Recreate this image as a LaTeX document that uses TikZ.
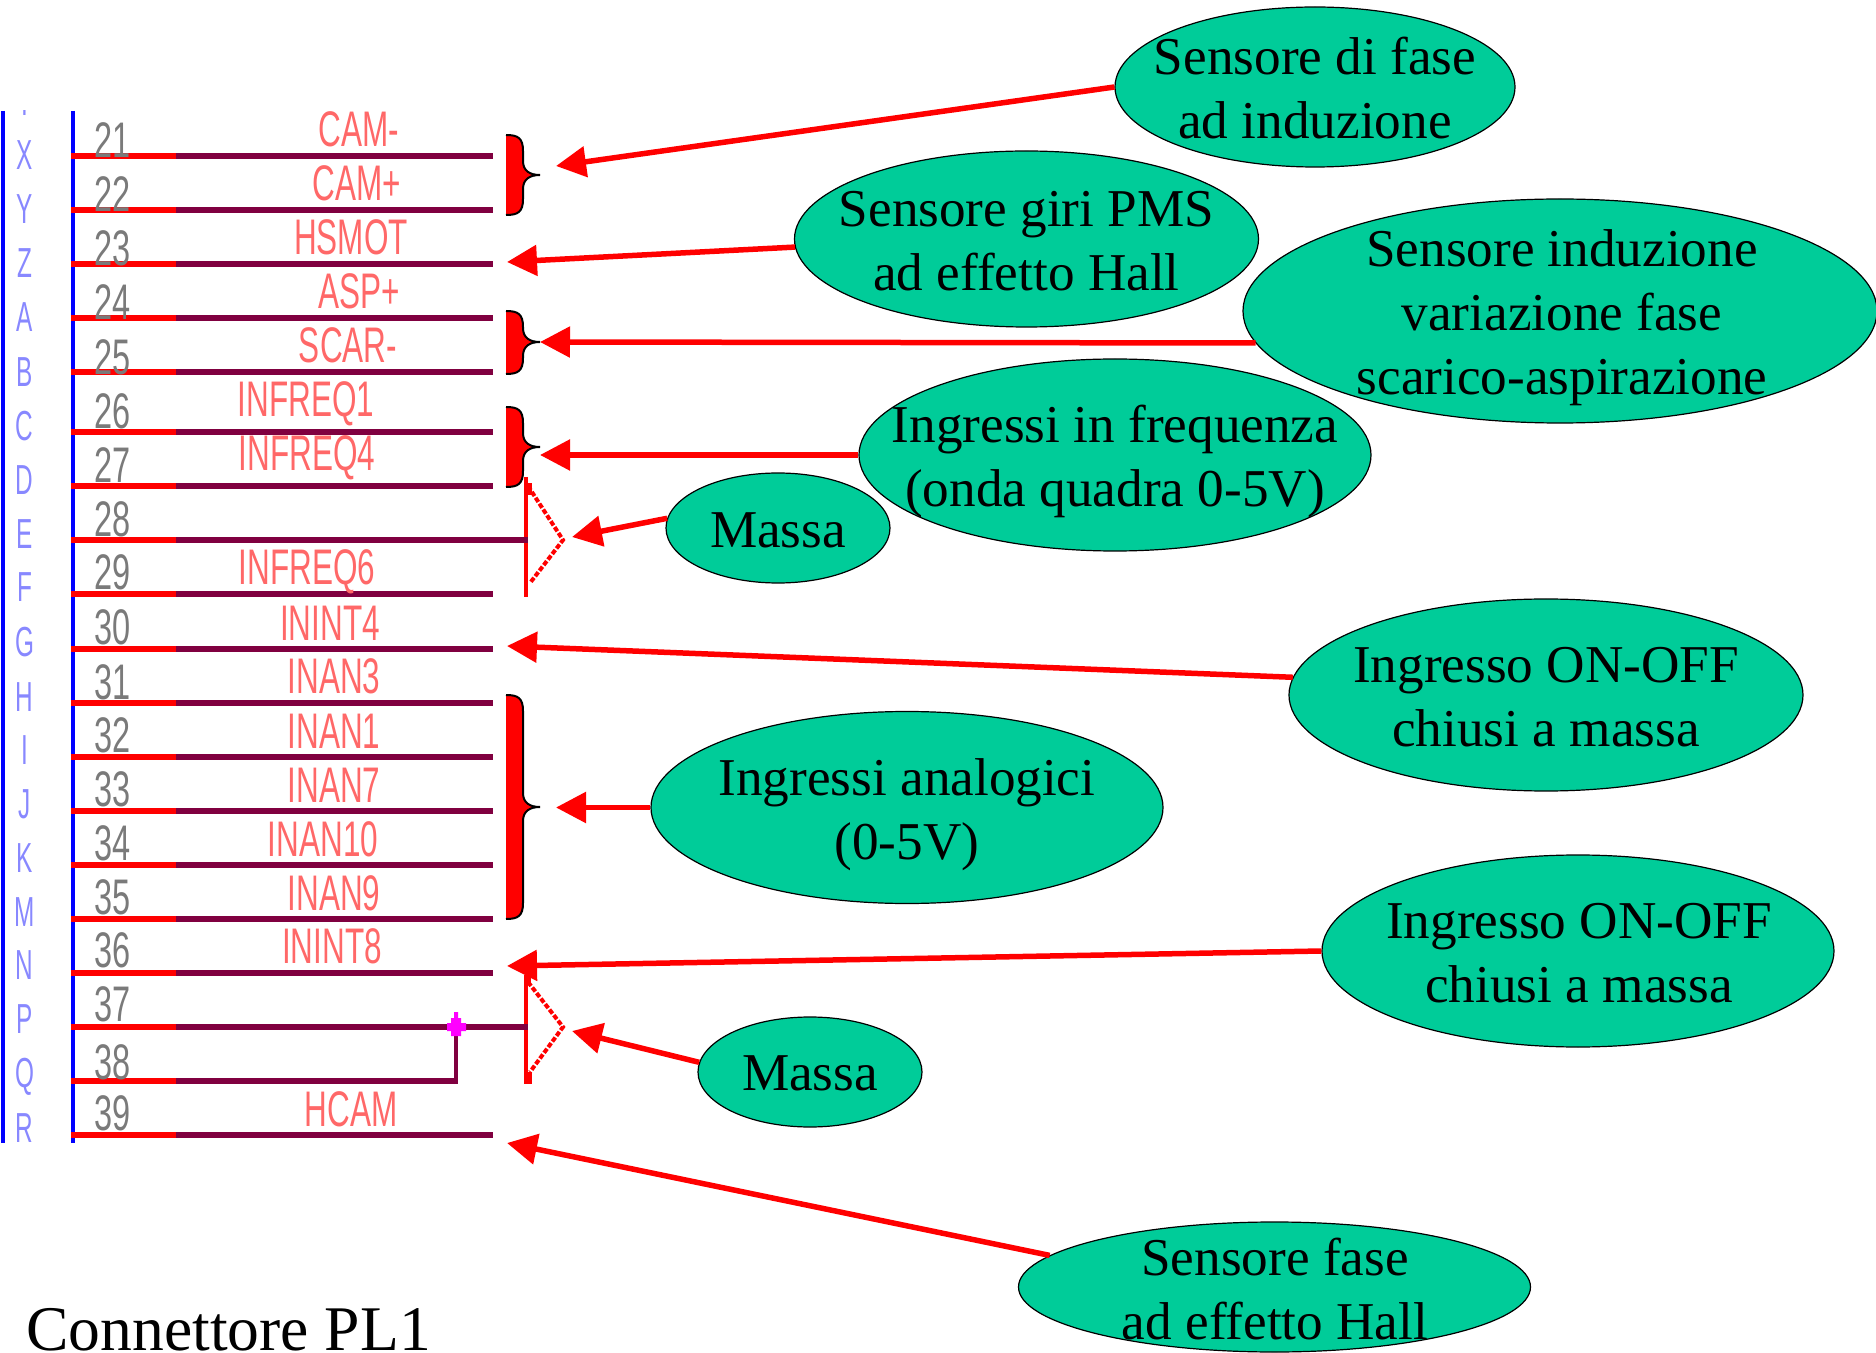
\documentclass[tikz,border=0pt]{standalone}
\usepackage{fontspec}
\usetikzlibrary{shapes.geometric,arrows.meta}
\setmainfont{Liberation Serif}
\newfontfamily\labfont[FakeStretch=0.63]{Liberation Sans}
\newfontfamily\numfont[FakeStretch=0.65]{Liberation Sans}
\newfontfamily\letfont[FakeStretch=0.58]{Liberation Sans}
\definecolor{wire}{HTML}{800040}
\definecolor{oval}{HTML}{00CC99}
\definecolor{labred}{HTML}{FF6868}
\definecolor{numgrey}{HTML}{7A7A7A}
\definecolor{letblue}{HTML}{8888FF}
\definecolor{puremag}{HTML}{FF00FF}
\definecolor{purered}{HTML}{FF0000}
\definecolor{pureblue}{HTML}{0000FF}
\tikzset{
  ovalshape/.style={ellipse,draw=black,line width=0.6pt,fill=oval,inner sep=0pt,minimum width=#1},
  ovaltext/.style={align=center,inner sep=0pt,font=\fontsize{26.6}{32}\selectfont},
  callout/.style={draw=purered,line width=2.75pt,-{Triangle[length=15pt,width=15pt]}},
  wirered/.style={draw=purered,line width=3pt},
  wiredark/.style={draw=wire,line width=3pt},
  wirethin/.style={draw=wire,line width=2pt},
  rail/.style={draw=pureblue,line width=2pt},
  siglabel/.style={text=labred,anchor=base,inner sep=0pt,font=\labfont\fontsize{25}{25}\selectfont},
  pinnum/.style={text=numgrey,inner sep=0pt,font=\numfont\fontsize{25}{25}\selectfont},
  pinlet/.style={text=letblue,inner sep=0pt,font=\letfont\fontsize{21}{21}\selectfont},
  bracefill/.style={fill=purered},
  braceedge/.style={draw=black,line width=1pt},
  gndsolid/.style={draw=purered,line width=2pt},
  gnddash/.style={draw=purered,line width=2pt,dash pattern=on 2.5pt off 1pt},
}
\newcommand{\curlyb}[3]{%
  \fill[bracefill] (506,#1) .. controls (518,#1) and (523,#1+3) .. (523,#1+16)
    -- (523,#2-14) .. controls (523,#2-4) and (530,#2) .. (540,#2)
    .. controls (530,#2) and (523,#2+4) .. (523,#2+14)
    -- (523,#3-16) .. controls (523,#3-3) and (518,#3) .. (506,#3) -- cycle;
  \draw[braceedge] (506,#1) .. controls (518,#1) and (523,#1+3) .. (523,#1+16)
    -- (523,#2-14) .. controls (523,#2-4) and (530,#2) .. (540,#2)
    .. controls (530,#2) and (523,#2+4) .. (523,#2+14)
    -- (523,#3-16) .. controls (523,#3-3) and (518,#3) .. (506,#3);
}
\begin{document}
\begin{tikzpicture}[x=0.5pt,y=-0.5pt]
\useasboundingbox (0,0) rectangle (1876,1353);

% rails
\coordinate (railAtop) at (3,111); \coordinate (railAbot) at (3,1143);
\coordinate (railBtop) at (73,111); \coordinate (railBbot) at (73,1143);
\draw[rail] (railAtop) -- (railAbot);
\draw[rail] (railBtop) -- (railBbot);

% braces
\curlyb{135}{175}{215}
\curlyb{311}{342}{374}
\curlyb{407}{447}{487}
\curlyb{695}{807}{919}

% ground symbols
\coordinate (g1t) at (526,477); \coordinate (g1b) at (526,597);
\coordinate (g1u) at (528,486); \coordinate (g1a) at (563,540); \coordinate (g1l) at (530,583);
\coordinate (g2t) at (526,975); \coordinate (g2b) at (526,1083);
\coordinate (g2u) at (528,982); \coordinate (g2a) at (563,1027); \coordinate (g2l) at (530,1072);
\draw[gndsolid] (g1t) -- (g1b);
\draw[gnddash] (g1u) -- (g1a) -- (g1l);
\draw[gndsolid] (g2t) -- (g2b);
\draw[gnddash] (g2u) -- (g2a) -- (g2l);
\fill[purered] (524,483) rectangle (532,495);
\fill[purered] (524,1072) rectangle (532,1084);
\fill[purered] (524,975) rectangle (531,984);

% rows
\foreach \n/\y in {21/156,22/210,23/264,24/318,25/372,26/432,27/486,28/540,29/594,30/649,31/703,32/757,33/811,34/865,35/919,36/973,37/1027,38/1081,39/1135}{
  \coordinate (a\n) at (71,\y);
  \coordinate (b\n) at (176,\y);
  \coordinate (c\n) at (493,\y);
}
\foreach \n in {21,22,23,24,25,26,27,29,30,31,32,33,34,35,36,39}{
  \draw[wiredark] (b\n) -- (c\n);
}
\coordinate (end28) at (528,540);
\coordinate (end37) at (528,1027);
\coordinate (junc) at (456,1027);
\coordinate (corner) at (456,1081);
\draw[wiredark] (b28) -- (end28);
\draw[wiredark] (b37) -- (end37);
\draw[wiredark] (b38) -- (corner |- b38);
\draw[wirethin] (corner) ++(0,3) -- (junc);
\foreach \n in {21,22,23,24,25,26,27,28,29,30,31,32,33,34,35,36,37,38,39}{
  \draw[wirered] (a\n) -- (b\n);
}
\fill[puremag] (454,1012) -- (458,1012) -- (458,1018) -- (461,1018) -- (461,1023) -- (466,1023) -- (466,1031) -- (461,1031) -- (461,1036) -- (451,1036) -- (451,1031) -- (447,1031) -- (447,1023) -- (451,1023) -- (451,1018) -- (454,1018) -- cycle;

% pin numbers and letters
\foreach \n/\y/\l in {21/155.5/X,22/209/Y,23/263/Z,24/317/A,25/372/B,26/426/C,27/480/D,28/534/E,29/587/F,30/642/G,31/697/H,32/750/I,33/804/J,34/858/K,35/912/M,36/965/N,37/1019/P,38/1077/Q,39/1128/R}{
  \node[pinnum] (num\n) at (112.5,\y-15) {\n};
  \node[pinlet] (let\n) at (24.5,\y) {\l};
}
\begin{scope}
  \clip (0,111) rectangle (60,140);
  \node[pinlet] (lettop) at (24.5,101) {I};
\end{scope}

% signal labels
\foreach \t/\x/\y in {CAM-/359/147,CAM+/357/201,HSMOT/351/255,ASP+/359/309,SCAR-/348/363,INFREQ1/306/417,INFREQ4/307/471,INFREQ6/307/585,ININT4/330/640,INAN3/334/694,INAN1/334/748,INAN7/334/802,INAN10/323/856,INAN9/334/910,ININT8/332/963,HCAM/351/1126}{
  \node[siglabel] (sig\t) at (\x,\y) {\t};
}

% ovals
\node[ovalshape=400pt*0.5,minimum height=80pt] (e1) at (1315,87) {};
\node[ovalshape=464pt*0.5,minimum height=88pt] (e2) at (1026.5,239) {};
\node[ovalshape=634pt*0.5,minimum height=112pt] (e3) at (1560,311) {};
\node[ovalshape=512pt*0.5,minimum height=96pt] (e4) at (1115,455) {};
\node[ovalshape=224pt*0.5,minimum height=55pt] (e5) at (778,528) {};
\node[ovalshape=514pt*0.5,minimum height=96pt] (e6) at (1546,695) {};
\node[ovalshape=512pt*0.5,minimum height=96pt] (e7) at (907,807.5) {};
\node[ovalshape=512pt*0.5,minimum height=96pt] (e8) at (1578,951) {};
\node[ovalshape=224pt*0.5,minimum height=55pt] (e9) at (810,1072) {};
\node[ovalshape=512pt*0.5,minimum height=65pt] (e10) at (1274.5,1287) {};

\node[ovaltext] (t1) at (1315,88.5) {Sensore di fase\\ad induzione};
\node[ovaltext] (t2) at (1026.5,241.5) {Sensore giri PMS\\ad effetto Hall};
\node[ovaltext] (t3) at (1562,317.5) {Sensore induzione\\variazione fase\\scarico-aspirazione};
\node[ovaltext] (t4) at (1115,461.5) {Ingressi in frequenza\\(onda quadra 0-5V)};
\node[ovaltext] (t5) at (778,530) {Massa};
\node[ovaltext] (t6) at (1546,697) {Ingresso ON-OFF\\chiusi a massa};
\node[ovaltext] (t7) at (907,814.5) {Ingressi analogici\\(0-5V)};
\node[ovaltext] (t8) at (1579,953.5) {Ingresso ON-OFF\\chiusi a massa};
\node[ovaltext] (t9) at (810,1073.5) {Massa};
\node[ovaltext] (t10) at (1275,1289) {Sensore fase\\ad effetto Hall};

% arrow tips
\coordinate (p1) at (556,166);
\coordinate (p2) at (507,262);
\coordinate (p3) at (540,342);
\coordinate (p4) at (540,455);
\coordinate (p5) at (572,537);
\coordinate (p6) at (507,646);
\coordinate (p7) at (556,807.5);
\coordinate (p8) at (507,966);
\coordinate (p9) at (572,1031);
\coordinate (p10) at (507,1143);

\draw[callout] (e1.west) -- (p1);
\draw[callout] (e2.182.3) -- (p2);
\draw[callout] (e3.186.8) -- (p3);
\draw[callout] (e4.west) -- (p4);
\draw[callout] (e5.175) -- (p5);
\draw[callout] (e6.176) -- (p6);
\draw[callout] (e7.west) -- (p7);
\draw[callout] (e8.west) -- (p8);
\draw[callout] (e9.175) -- (p9);
\draw[callout] (e10.172.5) -- (p10);

\node[anchor=base west,inner sep=0pt,font=\fontsize{31.8}{36}\selectfont] (title) at (26,1350) {Connettore PL1};
\end{tikzpicture}
\end{document}
